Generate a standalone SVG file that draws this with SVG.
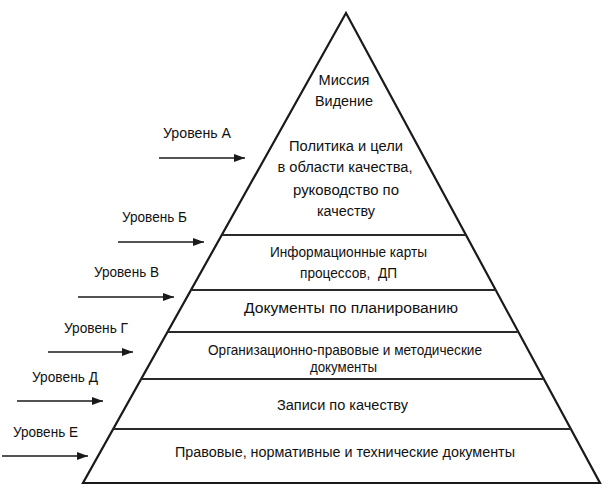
<svg xmlns="http://www.w3.org/2000/svg" width="614" height="494" viewBox="0 0 614 494">
<style>
.t{font-family:"Liberation Sans","DejaVu Sans",sans-serif;font-size:15.5px;fill:#111;text-anchor:middle;white-space:pre}
.s{font-size:14.5px}
.l{font-family:"Liberation Sans","DejaVu Sans",sans-serif;font-size:14.5px;fill:#111;text-anchor:start}
.e{fill:none;stroke:#1a1a1a;stroke-width:2.2;stroke-linejoin:miter}
.h{stroke:#2a2a2a;stroke-width:2}
.a{stroke:#1a1a1a;stroke-width:1.6;marker-end:url(#ah)}
</style>
<defs>
<marker id="ah" markerWidth="11" markerHeight="8" refX="11" refY="4" orient="auto" markerUnits="userSpaceOnUse">
<path d="M0,0 L11,4 L0,8 Z" fill="#1a1a1a"/>
</marker>
</defs>
<rect width="614" height="494" fill="#fff"/>
<g id="pyramid">
<polygon class="e" points="346,13 83,483 600,483"/>
<line class="h" x1="221.8" y1="235" x2="466" y2="235"/>
<line class="h" x1="191" y1="290" x2="495.7" y2="290"/>
<line class="h" x1="167.5" y1="332" x2="518.4" y2="332"/>
<line class="h" x1="141.2" y1="379" x2="543.8" y2="379"/>
<line class="h" x1="113.2" y1="429" x2="570.8" y2="429"/>
</g>
<g id="levelA-content">
<text class="t" x="344" y="85" textLength="51" lengthAdjust="spacingAndGlyphs">Миссия</text>
<text class="t" x="344" y="106" textLength="58" lengthAdjust="spacingAndGlyphs">Видение</text>
<text class="t" x="346" y="151" textLength="114" lengthAdjust="spacingAndGlyphs">Политика и цели</text>
<text class="t" x="345" y="172" textLength="135" lengthAdjust="spacingAndGlyphs">в области качества,</text>
<text class="t" x="346" y="195" textLength="106" lengthAdjust="spacingAndGlyphs">руководство по</text>
<text class="t" x="346" y="216" textLength="58" lengthAdjust="spacingAndGlyphs">качеству</text>
</g>
<g id="levelB-content">
<text class="t s" x="348.5" y="257" textLength="157" lengthAdjust="spacingAndGlyphs">Информационные карты</text>
<text class="t s" x="348.5" y="278" textLength="97" lengthAdjust="spacingAndGlyphs">процессов,  ДП</text>
</g>
<g id="levelV-content">
<text class="t" x="351" y="313" textLength="214" lengthAdjust="spacingAndGlyphs">Документы по планированию</text>
</g>
<g id="levelG-content">
<text class="t s" x="345" y="355" textLength="274" lengthAdjust="spacingAndGlyphs">Организационно-правовые и методические</text>
<text class="t s" x="343.5" y="372" textLength="67" lengthAdjust="spacingAndGlyphs">документы</text>
</g>
<g id="levelD-content">
<text class="t" x="342.5" y="410" textLength="131" lengthAdjust="spacingAndGlyphs">Записи по качеству</text>
</g>
<g id="levelE-content">
<text class="t" x="345" y="457" textLength="340" lengthAdjust="spacingAndGlyphs">Правовые, нормативные и технические документы</text>
</g>
<g id="labels">
<text class="l" x="163" y="138" textLength="68" lengthAdjust="spacingAndGlyphs">Уровень А</text>
<text class="l" x="122" y="222" textLength="65" lengthAdjust="spacingAndGlyphs">Уровень Б</text>
<text class="l" x="94" y="277" textLength="65" lengthAdjust="spacingAndGlyphs">Уровень В</text>
<text class="l" x="64" y="333" textLength="64" lengthAdjust="spacingAndGlyphs">Уровень Г</text>
<text class="l" x="32" y="382" textLength="66" lengthAdjust="spacingAndGlyphs">Уровень Д</text>
<text class="l" x="13" y="437" textLength="65" lengthAdjust="spacingAndGlyphs">Уровень Е</text>
</g>
<g id="connectors">
<line class="a" x1="159" y1="158" x2="245" y2="158"/>
<line class="a" x1="118" y1="242" x2="204" y2="242"/>
<line class="a" x1="78" y1="297" x2="174" y2="297"/>
<line class="a" x1="48" y1="352" x2="133" y2="352"/>
<line class="a" x1="17" y1="401" x2="103" y2="401"/>
<line class="a" x1="2" y1="456" x2="88" y2="456"/>
</g>
</svg>
